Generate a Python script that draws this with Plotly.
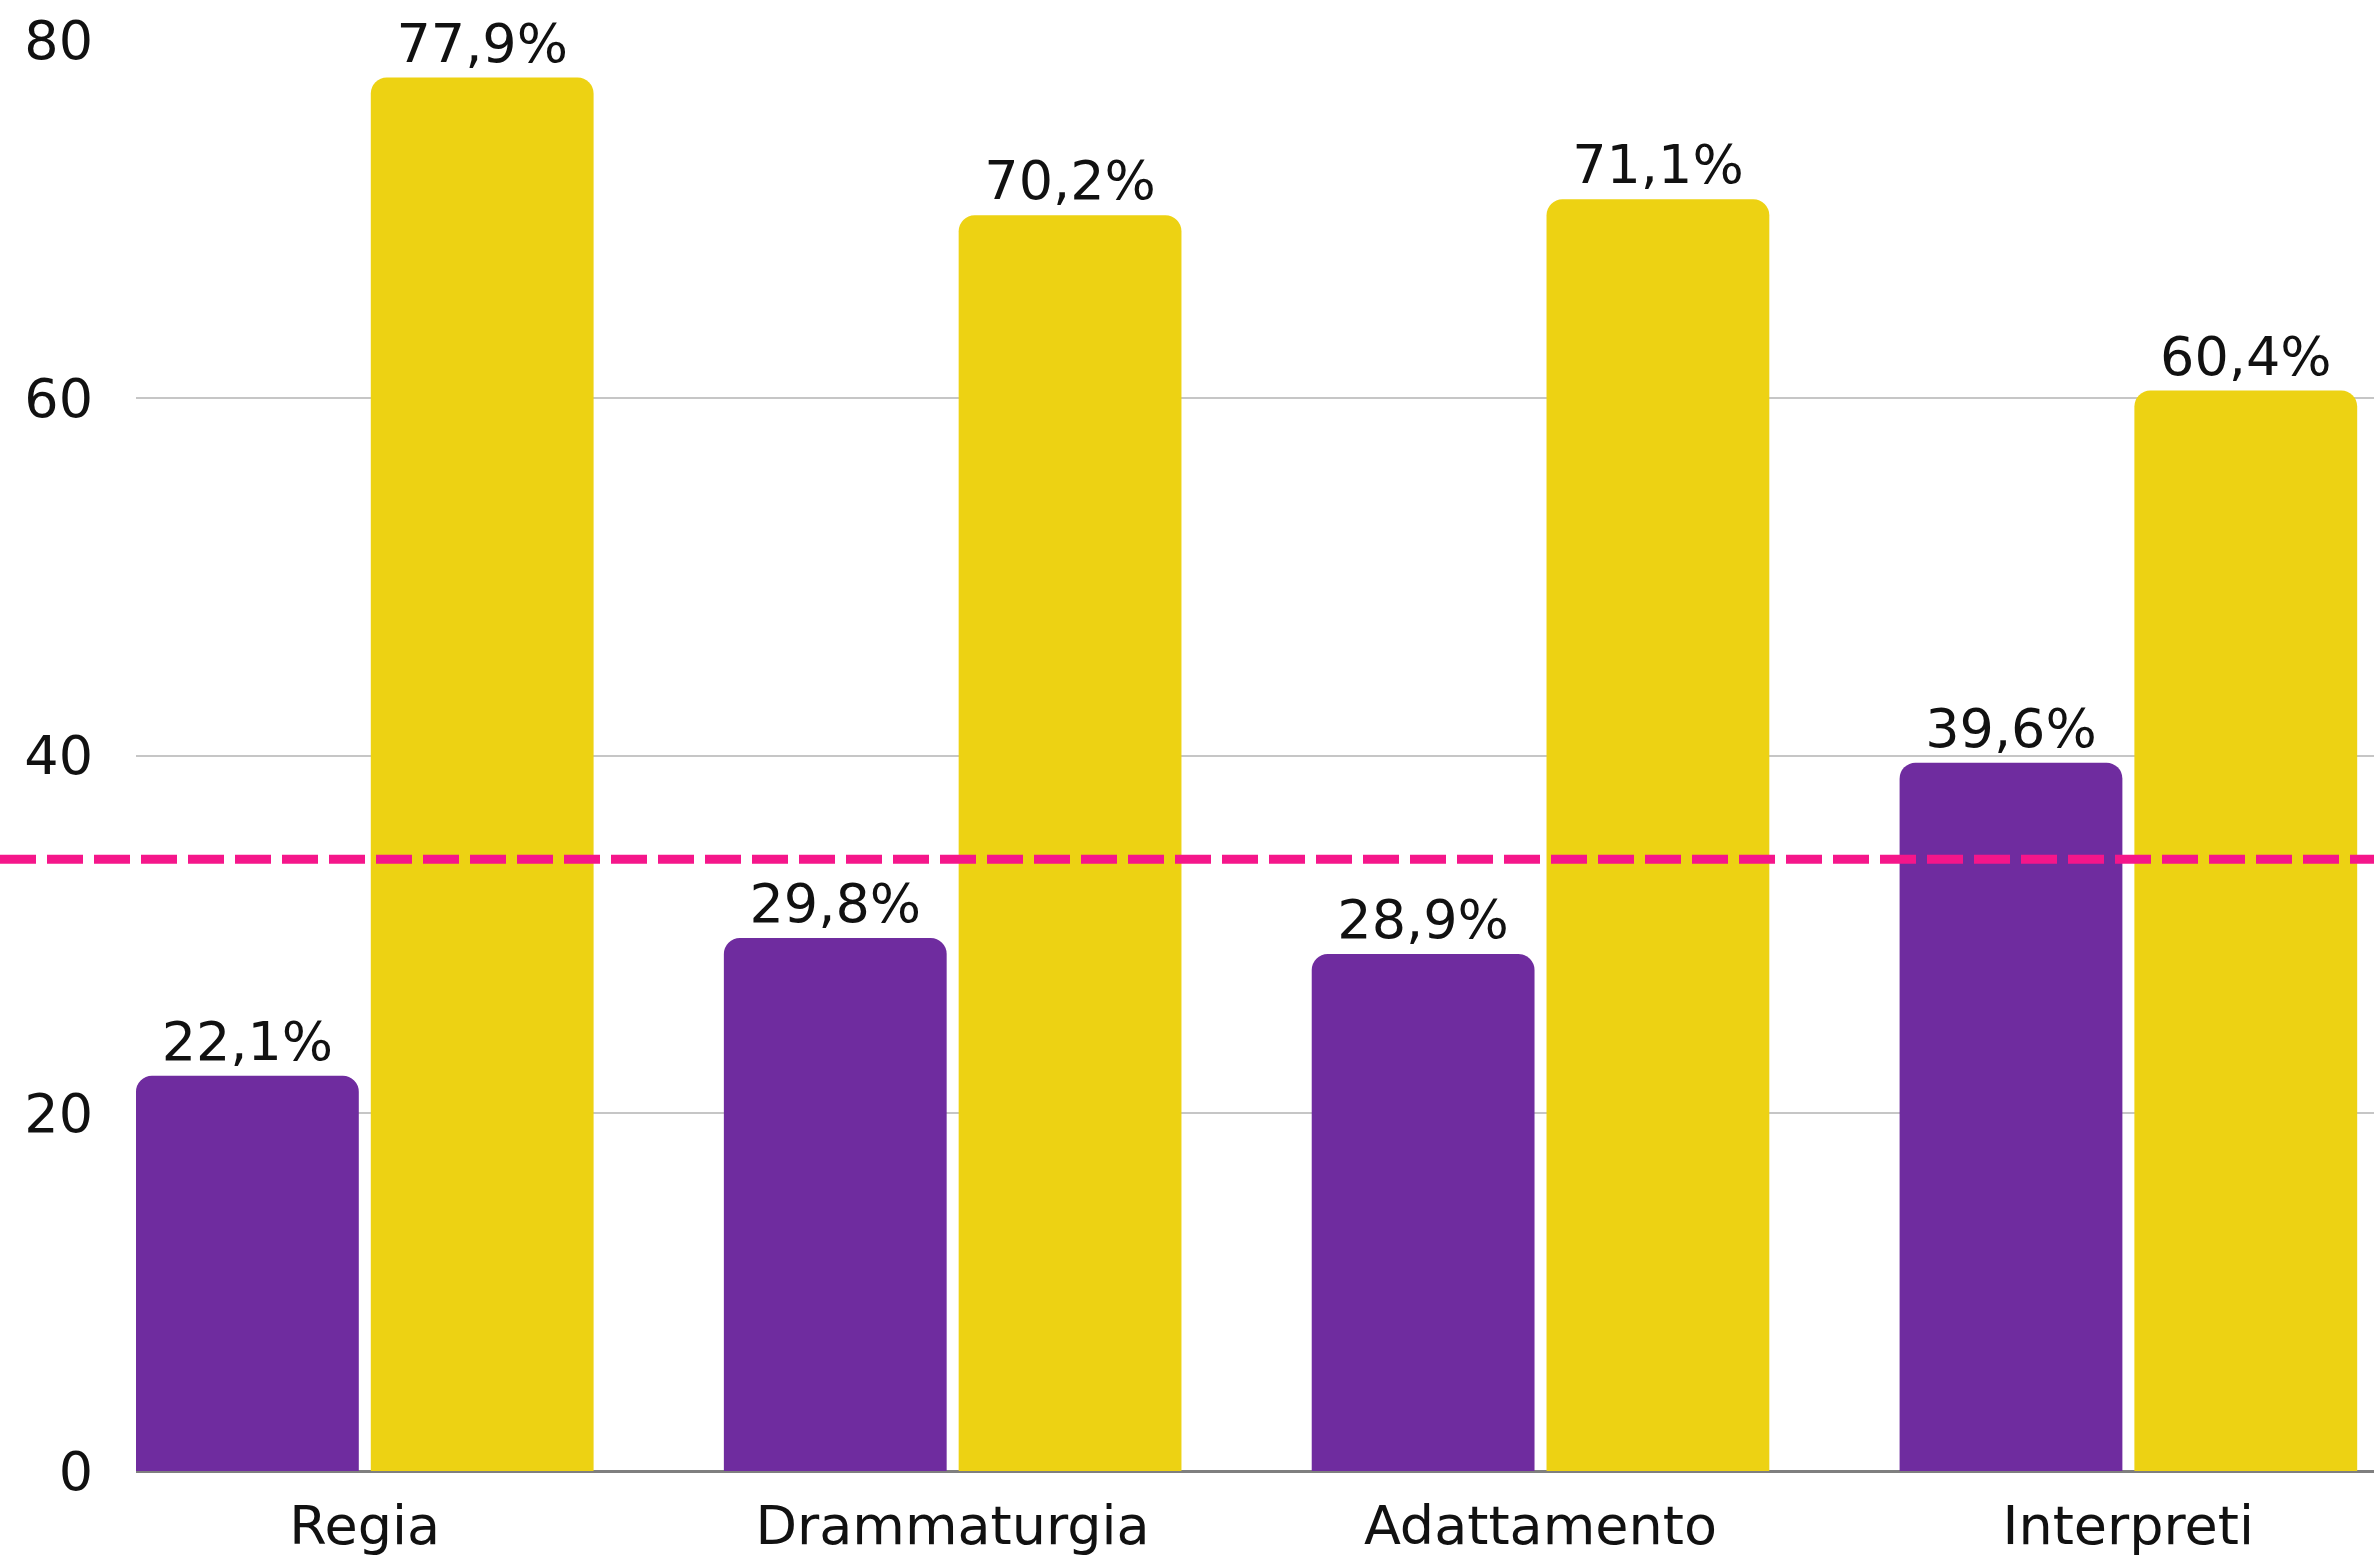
import plotly.graph_objects as go

categories = ["Regia", "Drammaturgia", "Adattamento", "Interpreti"]
purple_values = [22.1, 29.8, 28.9, 39.6]
yellow_values = [77.9, 70.2, 71.1, 60.4]
reference_value = 34.2
y_ticks = [0, 20, 40, 60, 80]

PURPLE = "#6F2C9F"
YELLOW = "#EDD213"
PINK = "#F5168A"
FONT = "DejaVu Sans"

bar_w = 0.379
fig = go.Figure()
fig.add_trace(go.Bar(
    x=categories, y=purple_values, width=bar_w, offset=-0.389,
    marker=dict(color=PURPLE, line=dict(width=0)),
    texttemplate="%{y:.1f}%", textposition="outside",
    textfont=dict(family=FONT, size=54, color="#111111"),
    cliponaxis=False, showlegend=False,
))
fig.add_trace(go.Bar(
    x=categories, y=yellow_values, width=bar_w, offset=0.0104,
    marker=dict(color=YELLOW, line=dict(width=0)),
    texttemplate="%{y:.1f}%", textposition="outside",
    textfont=dict(family=FONT, size=54, color="#111111"),
    cliponaxis=False, showlegend=False,
))

fig.add_shape(type="line", xref="paper", yref="y",
              x0=-136 / 2238, x1=1, y0=reference_value, y1=reference_value,
              line=dict(color=PINK, width=9, dash="36px,11px"), layer="above")

fig.update_layout(
    width=2374, height=1559,
    margin=dict(l=136, r=0, t=40, b=88),
    paper_bgcolor="white", plot_bgcolor="white",
    barmode="overlay", barcornerradius=16,
    separators=",.",
    font=dict(family=FONT, size=54, color="#111111"),
)
fig.update_xaxes(
    type="category", range=[-0.389, 3.418],
    showgrid=False, showline=False, ticks="",
    tickfont=dict(family=FONT, size=54, color="#111111"),
    ticklabelstandoff=18,
)
fig.update_yaxes(
    range=[0, 80], tickvals=y_ticks,
    showgrid=True, gridcolor="#C6C6C6", gridwidth=2,
    zeroline=True, zerolinecolor="#7F7F7F", zerolinewidth=3,
    showline=False, ticks="",
    tickfont=dict(family=FONT, size=54, color="#111111"),
    ticklabelstandoff=42,
)

fig.write_html(
    "out.html",
    config={"displayModeBar": False},
    post_script="document.body.style.margin='0';document.body.style.overflow='hidden';",
)
